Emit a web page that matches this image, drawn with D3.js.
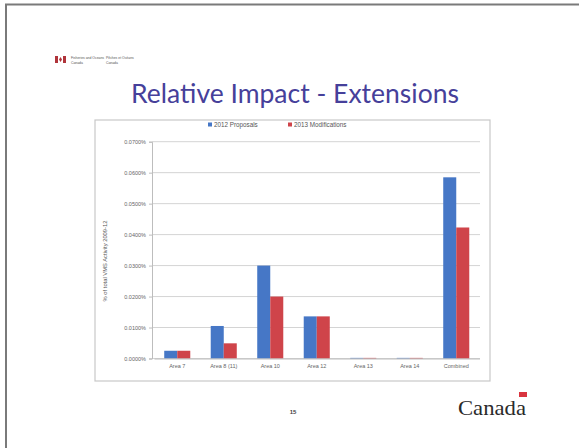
<!DOCTYPE html>
<html><head><meta charset="utf-8">
<script src="https://cdn.jsdelivr.net/npm/d3@7/dist/d3.min.js"></script>
<style>html,body{margin:0;padding:0;background:#fff;}svg{display:block;}</style>
</head><body>
<script>
const categories = ["Area 7", "Area 8 (11)", "Area 10", "Area 12", "Area 13", "Area 14", "Combined"];
const seriesNames = ["2012 Proposals", "2013 Modifications"];
const proposals2012 = [0.0025, 0.0105, 0.0300, 0.0136, 0.0002, 0.0002, 0.0585];
const modifications2013 = [0.0025, 0.0049, 0.0200, 0.0136, 0.0002, 0.0002, 0.0423];
const yTicks = [0, 0.01, 0.02, 0.03, 0.04, 0.05, 0.06, 0.07];
const colors = ["#4677c6", "#cf444a"];

const W = 579, H = 448;
const svg = d3.select("body").append("svg").attr("width", W).attr("height", H);

// slide border
svg.append("path").attr("d", `M6,${H} L6,4.5 L${W},4.5`).attr("fill","none").attr("stroke","#7a7a7a").attr("stroke-width",2);

// FIP logo
const logo = svg.append("g");
logo.append("rect").attr("x",55).attr("y",56).attr("width",3).attr("height",7).attr("fill","#b0343a");
logo.append("rect").attr("x",63).attr("y",56).attr("width",3).attr("height",7).attr("fill","#b0343a");
logo.append("path").attr("d","M60.5,57 L62,59.5 L60.5,62 L59,59.5Z").attr("fill","#b0343a");
const lf = {ff:"Liberation Sans", fs:3.4, c:"#555"};
[["Fisheries and Oceans",71,59],["Canada",71,63.5],["Pêches et Océans",106,59],["Canada",106,63.5]].forEach(t=>{
  logo.append("text").attr("x",t[1]).attr("y",t[2]).attr("font-size",lf.fs).attr("fill",lf.c).attr("font-family",lf.ff).text(t[0]);
});

// title
svg.append("text").attr("x",295).attr("y",103).attr("text-anchor","middle")
  .attr("font-family","Lato, 'Open Sans', sans-serif").attr("font-size",26.5).attr("fill","#46409a")
  .text("Relative Impact - Extensions");

// chart frame
svg.append("rect").attr("x",95).attr("y",120).attr("width",395).attr("height",261)
  .attr("fill","#fff").attr("stroke","#c8c8c8").attr("stroke-width",1.2);

const y = d3.scaleLinear().domain([0, 0.07]).range([358.5, 141.7]);
const x = d3.scaleBand().domain(categories).range([154, 479.5]).paddingInner(0.44).paddingOuter(0.22);
const xs = d3.scaleBand().domain(seriesNames).range([0, x.bandwidth()]);

// gridlines
svg.append("g").selectAll("line").data(yTicks).join("line")
  .attr("x1",152).attr("x2",480).attr("y1",d=>y(d)).attr("y2",d=>y(d))
  .attr("stroke","#d4d4d4").attr("stroke-width",1);

// y axis
const yAxis = d3.axisLeft(y).tickValues(yTicks).tickFormat(d=>d3.format(".4f")(d)+"%").tickSize(3).tickPadding(3);
const gy = svg.append("g").attr("transform","translate(152,0)").call(yAxis);
gy.select(".domain").attr("stroke","#bdbdbd");
gy.selectAll(".tick line").attr("stroke","#bdbdbd");
gy.selectAll("text").attr("font-family","Liberation Sans, sans-serif").attr("font-size",5.5).attr("fill","#666");

// bars
const data = categories.map((c,i)=>({cat:c, vals:[proposals2012[i], modifications2013[i]]}));
const groups = svg.append("g").selectAll("g").data(data).join("g").attr("transform",d=>`translate(${x(d.cat)},0)`);
groups.selectAll("rect").data(d=>d.vals.map((v,j)=>({v, s:seriesNames[j], j}))).join("rect")
  .attr("x",d=>xs(d.s)).attr("width",xs.bandwidth())
  .attr("y",d=>y(d.v)).attr("height",d=>y(0)-y(d.v))
  .attr("fill",d=>colors[d.j]);

// x axis
const xAxis = d3.axisBottom(x).tickSize(0).tickPadding(6);
const gx = svg.append("g").attr("transform",`translate(0,${y(0)})`).call(xAxis);
gx.select(".domain").attr("stroke","#bdbdbd");
gx.selectAll("text").attr("font-family","Liberation Sans, sans-serif").attr("font-size",5.5).attr("fill","#666");

// y label
svg.append("text").attr("transform","translate(107,261) rotate(-90)").attr("text-anchor","middle")
  .attr("font-family","Liberation Sans, sans-serif").attr("font-size",5.8).attr("fill","#555")
  .text("% of total VMS Activity 2009-12");

// legend
const leg = svg.append("g").attr("transform","translate(208,127)");
const legX = [0, 80];
seriesNames.forEach((s,i)=>{
  leg.append("rect").attr("x",legX[i]).attr("y",-4.5).attr("width",4).attr("height",4).attr("fill",colors[i]);
  leg.append("text").attr("x",legX[i]+6).attr("y",0).attr("font-family","Liberation Sans, sans-serif")
    .attr("font-size",6.3).attr("fill","#555").text(s);
});

// page number
svg.append("text").attr("x",293).attr("y",414).attr("text-anchor","middle")
  .attr("font-family","Liberation Sans, sans-serif").attr("font-size",6).attr("font-weight","bold").attr("fill","#444").text("15");

// Canada wordmark
svg.append("text").attr("x",458).attr("y",415).attr("font-family","Liberation Serif, serif")
  .attr("font-size",21).attr("fill","#2a2a2a").attr("textLength",68).attr("lengthAdjust","spacingAndGlyphs").text("Canada");
svg.append("rect").attr("x",519).attr("y",392).attr("width",8).attr("height",5).attr("fill","#d9343f");
</script>
</body></html>
